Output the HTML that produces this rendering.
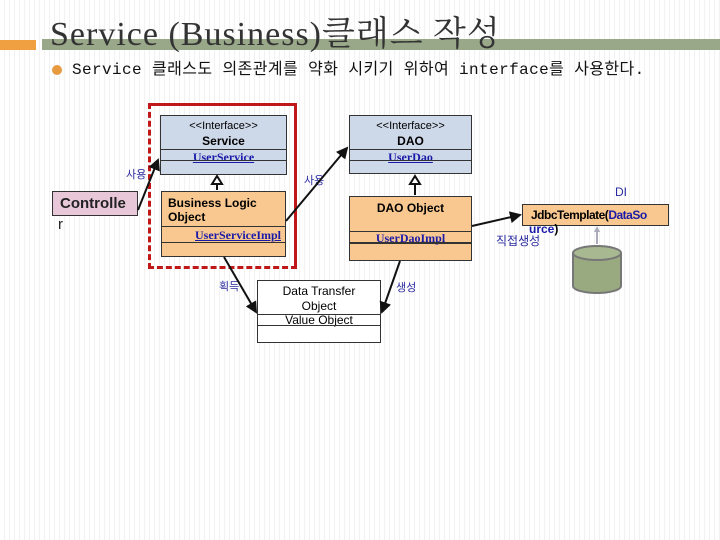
<!DOCTYPE html>
<html><head><meta charset="utf-8"><style>
body{margin:0}
#p{position:relative;width:720px;height:540px;overflow:hidden;background:#fff repeating-linear-gradient(90deg,#fff 0 4px,#f2f2f2 4px 5px);font-family:"Liberation Sans","Noto Sans CJK KR",sans-serif}
.a{position:absolute}
.box{position:absolute;border:1px solid #333;box-sizing:border-box}
.t{position:absolute;left:0;right:0;text-align:center}
.bl{color:#1a1aa8;font-family:"Liberation Serif",serif;font-weight:bold;text-decoration:underline;font-size:12px}
.kl{color:#2a2aa0;font-size:11px;position:absolute}
.hr{position:absolute;left:0;right:0;border-top:1px solid #333}
</style></head><body><div id="p">
<div class="a" style="left:0;top:40px;width:36px;height:10px;background:#f0a040"></div>
<div class="a" style="left:42px;top:39px;width:678px;height:11px;background:#98a888"></div>
<div class="a" style="left:50px;top:15px;font-family:'Liberation Serif','Noto Serif CJK SC',serif;font-size:34px;letter-spacing:1px;color:#333;line-height:40px">Service (Business)클래스 작성</div>
<div class="a" style="left:52px;top:65px;width:10px;height:10px;border-radius:50%;background:#e89a40"></div>
<div class="a" style="left:72px;top:60px;font-size:16px;line-height:20px;letter-spacing:0.4px;color:#111;font-family:'Liberation Mono','Noto Sans CJK KR',monospace">Service 클래스도 의존관계를 약화 시키기 위하여 interface를 사용한다.</div>

<div class="a" style="left:148px;top:103px;width:143px;height:160px;border:3px dashed #c01818;border-top-style:solid;border-right-style:solid"></div>

<div class="box" style="left:160px;top:115px;width:127px;height:60px;background:#cdd8e8">
<div class="t" style="top:4px;font-size:11px">&lt;&lt;Interface&gt;&gt;</div>
<div class="t" style="top:18px;font-size:12px;font-weight:bold">Service</div>
<div class="hr" style="top:33px"></div><div class="t bl" style="top:34px">UserService</div>
<div class="hr" style="top:44px"></div></div>

<div class="box" style="left:161px;top:191px;width:125px;height:66px;background:#f8c890">
<div class="a" style="left:6px;top:4px;font-size:12px;font-weight:bold;line-height:14px">Business Logic<br>Object</div>
<div class="hr" style="top:34px"></div><div class="t bl" style="top:36px;text-align:right;right:4px">UserServiceImpl</div>
<div class="hr" style="top:50px"></div></div>

<div class="box" style="left:349px;top:115px;width:123px;height:59px;background:#cdd8e8">
<div class="t" style="top:4px;font-size:11px">&lt;&lt;Interface&gt;&gt;</div>
<div class="t" style="top:18px;font-size:12px;font-weight:bold">DAO</div>
<div class="hr" style="top:33px"></div><div class="t bl" style="top:34px">UserDao</div>
<div class="hr" style="top:44px"></div></div>

<div class="box" style="left:349px;top:196px;width:123px;height:65px;background:#f8c890">
<div class="t" style="top:4px;font-size:12px;font-weight:bold">DAO Object</div>
<div class="hr" style="top:34px"></div><div class="t bl" style="top:34px">UserDaoImpl</div>
<div class="hr" style="top:45px;border-top-width:2px"></div></div>

<div class="box" style="left:52px;top:191px;width:86px;height:25px;background:#e8c8d8">
<div class="a" style="left:7px;top:3px;font-size:15px;font-weight:bold;color:#222">Controlle</div></div>
<div class="a" style="left:58px;top:216px;font-size:15px;color:#222">r</div>

<div class="box" style="left:257px;top:280px;width:124px;height:63px;background:#fff">
<div class="t" style="top:3px;font-size:12px;line-height:15px">Data Transfer<br>Object</div>
<div class="hr" style="top:33px"></div><div class="t" style="top:32px;font-size:12px">Value Object</div>
<div class="hr" style="top:44px"></div></div>

<div class="box" style="left:522px;top:204px;width:147px;height:22px;background:#f8c890">
<div class="a" style="left:8px;top:3px;font-size:12px;font-weight:bold;letter-spacing:-0.5px">Jdbc<span>Template(</span><span style="color:#1a1aa8">DataSo</span></div></div>
<div class="a" style="left:529px;top:222px;font-size:12px;font-weight:bold"><span style="color:#1a1aa8">urce</span>)</div>

<div class="kl" style="left:126px;top:166px">사용</div>
<div class="kl" style="left:304px;top:172px">사용</div>
<div class="kl" style="left:615px;top:185px;font-size:12px">DI</div>
<div class="kl" style="left:496px;top:232px;font-size:12px">직접생성</div>
<div class="kl" style="left:219px;top:278px">획득</div>
<div class="kl" style="left:396px;top:279px">생성</div>

<svg class="a" style="left:0;top:0" width="720" height="540">
<defs><marker id="m" markerWidth="6" markerHeight="6" refX="5" refY="3" orient="auto"><path d="M0,0L6,3L0,6z" fill="#111"/></marker></defs>
<g stroke="#111" stroke-width="2" fill="none">
<line x1="138" y1="210" x2="158" y2="160" marker-end="url(#m)"/>
<line x1="286" y1="221" x2="347" y2="148" marker-end="url(#m)"/>
<line x1="224" y1="257" x2="256" y2="312" marker-end="url(#m)"/>
<line x1="400" y1="261" x2="382" y2="312" marker-end="url(#m)"/>
<line x1="472" y1="226" x2="520" y2="215" marker-end="url(#m)"/>
<line x1="217" y1="190" x2="217" y2="180"/>
<line x1="415" y1="195" x2="415" y2="180"/>
</g>
<path d="M212,184L217,176L222,184z" fill="#fff" stroke="#111" stroke-width="2"/>
<path d="M410,184L415,176L420,184z" fill="#fff" stroke="#111" stroke-width="2"/>
<line x1="597" y1="244" x2="597" y2="229" stroke="#aab" stroke-width="2"/>
<path d="M594,232L597,226L600,232z" fill="#aab"/>
<path d="M573,253v33a24,7 0 0 0 48,0v-33" fill="#9aaa80" stroke="#777" stroke-width="2"/>
<ellipse cx="597" cy="253" rx="24" ry="7" fill="#a8b890" stroke="#777" stroke-width="2"/>
</svg>
</div></body></html>
